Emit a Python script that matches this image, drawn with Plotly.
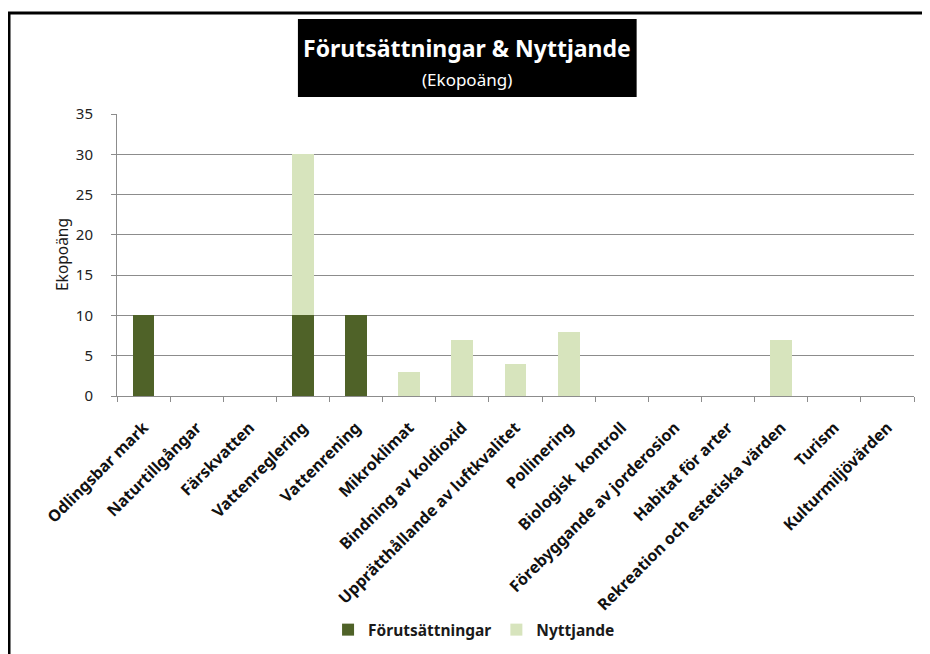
import plotly.graph_objects as go

# categories and values
categories = [
    "Odlingsbar mark",
    "Naturtillgångar",
    "Färskvatten",
    "Vattenreglering",
    "Vattenrening",
    "Mikroklimat",
    "Bindning av koldioxid",
    "Upprätthållande av luftkvalitet",
    "Pollinering",
    "Biologisk  kontroll",
    "Förebyggande av jorderosion",
    "Habitat för arter",
    "Rekreation och estetiska värden",
    "Turism",
    "Kulturmiljövärden",
]
forutsattningar = [10, 0, 0, 10, 10, 0, 0, 0, 0, 0, 0, 0, 0, 0, 0]
nyttjande = [0, 0, 0, 20, 0, 3, 7, 4, 8, 0, 0, 0, 7, 0, 0]
y_ticks = [0, 5, 10, 15, 20, 25, 30, 35]

FONT = "Noto Sans"

fig = go.Figure()
fig.add_bar(x=categories, y=forutsattningar, name="Förutsättningar",
            marker=dict(color="#4F6228", line=dict(width=0)))
fig.add_bar(x=categories, y=nyttjande, name="Nyttjande",
            marker=dict(color="#D7E4BD", line=dict(width=0)))

# the page body has an 8px margin, so the figure is 8px smaller than the window
fig.update_layout(
    barmode="stack",
    bargap=0.59,
    width=922,
    height=646,
    margin=dict(l=109, r=16, t=106, b=258, autoexpand=False),
    paper_bgcolor="white",
    plot_bgcolor="white",
    font=dict(family=FONT, color="#1a1a1a"),
    showlegend=True,
    legend=dict(
        orientation="h",
        x=0.448, y=-0.83, xanchor="center", yanchor="middle",
        font=dict(size=15.5, family=FONT, weight="bold"),
        itemwidth=30,
        traceorder="normal",
    ),
)

fig.update_xaxes(
    tickangle=-45,
    tickfont=dict(size=16, family=FONT, weight="bold", color="#111111"),
    ticklabelstandoff=15,
    showline=True, linecolor="#8c8c8c", linewidth=1,
    ticks="outside", tickson="boundaries", ticklen=5, tickcolor="#8c8c8c",
    showgrid=False, automargin=False,
)
fig.update_yaxes(
    range=[0, 35],
    tickvals=y_ticks,
    tickfont=dict(size=15, family=FONT, color="#222222"),
    ticklabelstandoff=15,
    showline=True, linecolor="#8c8c8c", linewidth=1,
    ticks="outside", ticklen=5, tickcolor="#8c8c8c",
    showgrid=True, gridcolor="#8c8c8c", gridwidth=1,
    zeroline=False, automargin=False,
)

# outer frame of the chart
fig.add_shape(type="rect", xref="paper", yref="paper",
              x0=-0.1355, x1=1.1, y0=-1.0, y1=1.358,
              line=dict(color="black", width=3), layer="above")

# black title box
fig.add_shape(type="rect", xref="paper", yref="paper",
              x0=0.227, x1=0.652, y0=1.060, y1=1.337,
              fillcolor="black", line=dict(width=0))
fig.add_annotation(text="<b>Förutsättningar & Nyttjande</b>", xref="paper", yref="paper",
                   x=0.439, y=1.234, xanchor="center", yanchor="middle", showarrow=False,
                   font=dict(size=23, color="white", family=FONT))
fig.add_annotation(text="(Ekopoäng)", xref="paper", yref="paper",
                   x=0.439, y=1.121, xanchor="center", yanchor="middle", showarrow=False,
                   font=dict(size=17, color="white", family=FONT))

# y axis title
fig.add_annotation(text="Ekopoäng", xref="paper", yref="paper",
                   x=-0.069, y=0.5, xanchor="center", yanchor="middle",
                   textangle=-90, showarrow=False,
                   font=dict(size=15.5, color="#1a1a1a", family=FONT))

fig.write_html("out.html")
